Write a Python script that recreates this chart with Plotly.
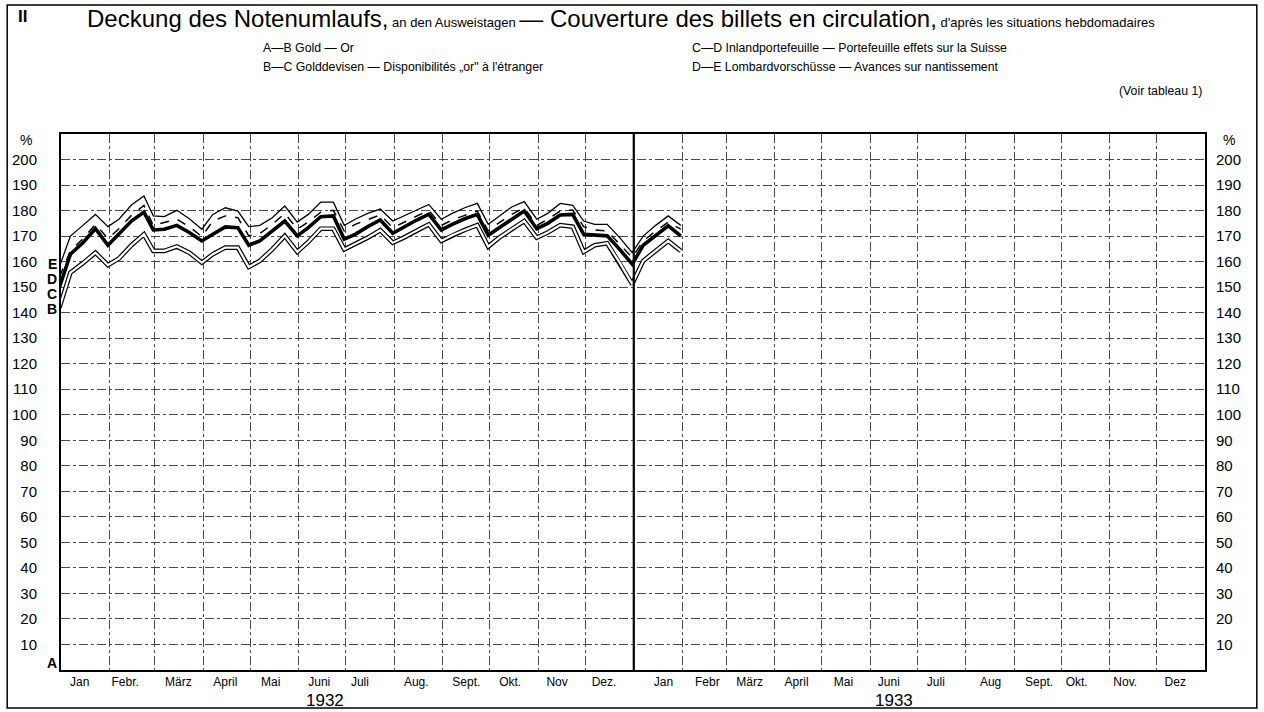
import datetime as dt
import plotly.graph_objects as go

# ---------------- data ----------------
dates = ["1931-12-31",
         "1932-01-07", "1932-01-15", "1932-01-23", "1932-01-31",
         "1932-02-07", "1932-02-15", "1932-02-23", "1932-02-29",
         "1932-03-07", "1932-03-15", "1932-03-23", "1932-03-31",
         "1932-04-07", "1932-04-15", "1932-04-23", "1932-04-30",
         "1932-05-07", "1932-05-15", "1932-05-23", "1932-05-31",
         "1932-06-07", "1932-06-15", "1932-06-23", "1932-06-30",
         "1932-07-07", "1932-07-15", "1932-07-23", "1932-07-31",
         "1932-08-07", "1932-08-15", "1932-08-23", "1932-08-31",
         "1932-09-07", "1932-09-15", "1932-09-23", "1932-09-30",
         "1932-10-07", "1932-10-15", "1932-10-23", "1932-10-31",
         "1932-11-07", "1932-11-15", "1932-11-23", "1932-11-30",
         "1932-12-07", "1932-12-15", "1932-12-23", "1932-12-31",
         "1933-01-07", "1933-01-15", "1933-01-23", "1933-01-31"]

# B: gold (A-B)
line_B = [142,
          155.7, 159.4, 163.5, 158.6,
          161.2, 166.4, 170.7, 164.2,
          164.2, 165.9, 163.5, 159.6,
          162.9, 165.5, 165.5, 157.9,
          160.3, 164.8, 170.1, 163.8,
          167.7, 172.9, 172.9, 164.8,
          166.8, 169.4, 172.3, 167.4,
          169.4, 172.0, 174.6, 168.1,
          170.3, 172.4, 174.3, 165.9,
          169.4, 172.7, 175.9, 169.4,
          171.4, 174.3, 173.7, 163.8,
          166.4, 167.2, 159.6, 151.2,
          160.3, 164.2, 168.1, 164.2]

# C: + gold devisen (B-C)
line_C = [150,
          162.9, 167.4, 172.9, 166.4,
          170.7, 175.9, 179.4, 172.4,
          172.7, 174.2, 171.4, 168.1,
          170.7, 173.6, 173.3, 166.4,
          168.1, 172.0, 175.9, 170.1,
          173.3, 177.6, 177.9, 168.8,
          170.7, 173.7, 176.3, 171.1,
          173.6, 176.2, 178.6, 172.4,
          174.6, 176.8, 178.5, 170.3,
          173.3, 176.6, 179.8, 172.9,
          175.0, 178.3, 178.5, 170.7,
          170.3, 170.1, 164.8, 159.0,
          166.4, 170.1, 174.0, 170.1]

# D: + domestic portfolio (C-D)
line_D = [154,
          164.2, 169.0, 174.6, 169.0,
          172.9, 178.1, 182.0, 174.2,
          175.3, 176.6, 173.7, 169.8,
          175.9, 177.9, 177.2, 170.1,
          171.0, 174.6, 178.9, 172.7,
          175.5, 179.4, 180.1, 172.0,
          174.6, 176.6, 178.3, 173.3,
          175.3, 177.6, 180.1, 174.2,
          176.3, 178.1, 179.8, 172.0,
          175.3, 178.5, 181.1, 174.2,
          176.6, 179.8, 180.2, 173.7,
          172.4, 172.0, 166.8, 161.6,
          168.1, 172.0, 175.5, 172.7]

# E: + lombard advances (D-E)
line_E = [158,
          170.0, 174.2, 178.5, 173.7,
          176.6, 182.2, 185.7, 177.9,
          177.6, 180.1, 176.8, 172.7,
          178.5, 181.1, 179.8, 173.7,
          174.2, 177.2, 181.8, 175.5,
          178.5, 183.3, 183.3, 174.2,
          176.6, 178.9, 180.6, 175.9,
          177.9, 180.2, 182.4, 176.6,
          178.9, 181.1, 182.8, 174.6,
          177.9, 181.4, 183.5, 176.6,
          178.9, 182.8, 182.0, 175.9,
          174.6, 174.6, 169.4, 163.5,
          170.0, 174.2, 177.9, 174.2]

month_labels_1932 = ["Jan", "Febr.", "März", "April", "Mai", "Juni",
                     "Juli", "Aug.", "Sept.", "Okt.", "Nov", "Dez."]
month_labels_1933 = ["Jan", "Febr", "März", "April", "Mai", "Juni",
                     "Juli", "Aug", "Sept.", "Okt.", "Nov.", "Dez"]
years = ["1932", "1933"]
y_ticks = list(range(10, 201, 10))

# ---------------- layout geometry ----------------
W, H = 1264, 712
L, R, T, B = 57, 59, 134, 42
PW, PH = W - L - R, H - T - B
FONT = "Liberation Sans"
X0, X1 = dt.date(1932, 1, 1), dt.date(1934, 1, 1)
NDAYS = (X1 - X0).days

# horizontal pixel positions of the month names as lettered on the sheet
label_px_1932 = [77, 122, 175, 223, 269, 317, 358, 415, 464, 508, 555, 603]
label_px_1933 = [662, 706, 749, 796, 843, 889, 935, 990, 1040, 1077, 1125, 1176]


def px(x):
    return (x - L) / PW


def py(y):
    return (T + PH - y) / PH


def px_to_date(x):
    d = X0 + dt.timedelta(days=(x - L) / PW * NDAYS)
    return d.isoformat()


tickvals_x = [px_to_date(x) for x in label_px_1932 + label_px_1933]
ticktext_x = month_labels_1932 + month_labels_1933

fig = go.Figure()

# gold line drawn as a double line
fig.add_trace(go.Scatter(x=dates, y=line_B, mode="lines",
                         line=dict(color="black", width=4.6), hoverinfo="skip"))
fig.add_trace(go.Scatter(x=dates, y=line_B, mode="lines",
                         line=dict(color="white", width=2.2), hoverinfo="skip"))
fig.add_trace(go.Scatter(x=dates, y=line_C, mode="lines",
                         line=dict(color="black", width=3.6), hoverinfo="skip"))
fig.add_trace(go.Scatter(x=dates, y=line_D, mode="lines",
                         line=dict(color="black", width=1.5, dash="dash"), hoverinfo="skip"))
fig.add_trace(go.Scatter(x=dates, y=line_E, mode="lines",
                         line=dict(color="black", width=1.3), hoverinfo="skip"))
# invisible trace to activate the right-hand axis
fig.add_trace(go.Scatter(x=[dates[0]], y=[line_B[0]], yaxis="y2", mode="markers",
                         marker=dict(opacity=0), hoverinfo="skip"))

grid_style = dict(gridcolor="#4a4a4a", gridwidth=1, griddash="dashdot")

fig.update_layout(
    width=W, height=H, autosize=False,
    margin=dict(l=L, r=R, t=T, b=B, pad=0),
    paper_bgcolor="white", plot_bgcolor="white",
    showlegend=False,
    font=dict(family=FONT, color="black"),
    xaxis=dict(
        type="date", range=[X0.isoformat(), X1.isoformat()],
        tickmode="array", tickvals=tickvals_x, ticktext=ticktext_x,
        ticks="", showgrid=False, zeroline=False,
        tickfont=dict(size=12, family=FONT, color="black"),
        ticklabelstandoff=0,
        showline=True, linewidth=2, linecolor="black", mirror=True,
        minor=dict(dtick="M1", tick0="1932-01-01", showgrid=True, ticks="", **grid_style),
    ),
    yaxis=dict(
        range=[0, 210], tickmode="array", tickvals=y_ticks,
        ticktext=[str(v) for v in y_ticks],
        ticks="", ticklabelstandoff=19,
        tickfont=dict(size=15, family=FONT, color="black"),
        showgrid=True, zeroline=False,
        showline=True, linewidth=2, linecolor="black", mirror=True,
        **grid_style,
    ),
    yaxis2=dict(
        range=[0, 210], overlaying="y", side="right", anchor="x",
        tickmode="array", tickvals=y_ticks, ticktext=[str(v) for v in y_ticks],
        ticks="", ticklabelstandoff=10,
        tickfont=dict(size=15, family=FONT, color="black"),
        showgrid=False, zeroline=False, showline=False,
    ),
)

# thick line at year change
fig.add_shape(type="line", xref="x", yref="paper", x0="1933-01-01", x1="1933-01-01",
              y0=0, y1=1, line=dict(color="black", width=2.2))
# outer frame
fig.add_shape(type="rect", xref="paper", yref="paper", layer="below",
              x0=px(3), x1=px(1257), y0=py(708), y1=py(5),
              line=dict(color="black", width=1.5))

ann = []


def text(x, y, s, size, xanchor="center", bold=False):
    ann.append(dict(xref="paper", yref="paper", x=px(x), y=py(y),
                    text=(f"<b>{s}</b>" if bold else s),
                    showarrow=False, xanchor=xanchor, yanchor="middle",
                    borderpad=0,
                    font=dict(size=size, family=FONT, color="black")))


text(18, 17, "II", 17, bold=True)
title = ("Deckung des Notenumlaufs,"
         "<span style='font-size:13px'> an den Ausweistagen </span>"
         "— Couverture des billets en circulation,"
         "<span style='font-size:13px'> d'après les situations hebdomadaires</span>")
text(619, 19, title, 24)
text(259, 48, "A—B Gold — Or", 12.3, xanchor="left")
text(259, 67, "B—C Golddevisen — Disponibilités „or\" à l'étranger", 12.3, xanchor="left")
text(689, 48, "C—D Inlandportefeuille — Portefeuille effets sur la Suisse", 12.3, xanchor="left")
text(689, 67, "D—E Lombardvorschüsse — Avances sur nantissement", 12.3, xanchor="left")
text(1203, 91, "(Voir tableau 1)", 12.3, xanchor="right")
text(22, 140, "%", 14)
text(1229, 140, "%", 14)
for lab, yy in zip(["A", "B", "C", "D", "E"], [663, 309, 294, 279, 264]):
    text(48, yy, lab, 14, bold=True)
for yr, xx in zip(years, [322, 893]):
    text(xx, 700, yr, 17)

fig.update_layout(annotations=ann)

fig.write_html("out.html", config={"displayModeBar": False},
               post_script="document.body.style.margin='0';")
